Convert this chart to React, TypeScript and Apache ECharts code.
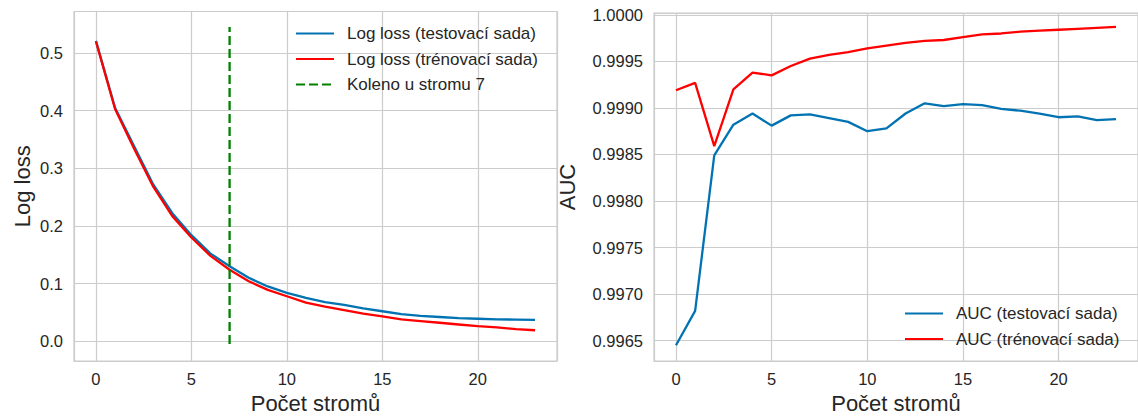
import React, { useEffect, useRef } from "react";
import * as echarts from "echarts";

// Number of trees on the x axis
const trees = [0, 1, 2, 3, 4, 5, 6, 7, 8, 9, 10, 11, 12, 13, 14, 15, 16, 17, 18, 19, 20, 21, 22, 23];

// Log loss per number of trees
const logLossTest = [0.521, 0.405, 0.338, 0.272, 0.222, 0.184, 0.152, 0.130, 0.110, 0.095, 0.084, 0.075, 0.068, 0.063, 0.057, 0.052, 0.047, 0.044, 0.042, 0.040, 0.039, 0.038, 0.0375, 0.037];
const logLossTrain = [0.520, 0.403, 0.334, 0.268, 0.217, 0.180, 0.148, 0.124, 0.104, 0.089, 0.078, 0.067, 0.060, 0.054, 0.048, 0.043, 0.038, 0.035, 0.032, 0.029, 0.026, 0.024, 0.021, 0.019];

// Knee marker
const kneeTree = 7;
const kneeSpan = [-0.005, 0.545];

// AUC per number of trees
const aucTest = [0.99645, 0.99682, 0.99849, 0.99882, 0.99894, 0.99881, 0.99892, 0.99893, 0.99889, 0.99885, 0.99875, 0.99878, 0.99894, 0.99905, 0.99902, 0.99904, 0.99903, 0.99899, 0.99897, 0.99894, 0.99890, 0.99891, 0.99887, 0.99888];
const aucTrain = [0.99919, 0.99927, 0.99859, 0.99920, 0.99938, 0.99935, 0.99945, 0.99953, 0.99957, 0.99960, 0.99964, 0.99967, 0.99970, 0.99972, 0.99973, 0.99976, 0.99979, 0.99980, 0.99982, 0.99983, 0.99984, 0.99985, 0.99986, 0.99987];

const names = {
  llTest: "Log loss (testovací sada)",
  llTrain: "Log loss (trénovací sada)",
  knee: "Koleno u stromu " + kneeTree,
  aucTest: "AUC (testovací sada)",
  aucTrain: "AUC (trénovací sada)",
};

const FONT = "'Liberation Sans', Arial, sans-serif";
const TEXT = "#262626";
const GRID = "#cccccc";
const BLUE = "#0173b2";
const RED = "#ff0000";
const GREEN = "#008000";
const TICK_SIZE = 16.5;
const TITLE_SIZE = 22;
const LEGEND_SIZE = 17;

const pairs = (ys: number[]) => trees.map((t, i) => [t, ys[i]]);

const onStep = (v: number, step: number) => Math.abs(v / step - Math.round(v / step)) < 1e-6;

function xAxis(gridIndex: number) {
  return {
    gridIndex,
    type: "value",
    min: -1.15,
    max: 24.15,
    splitNumber: 5,
    axisLine: { show: false },
    axisTick: { show: false },
    splitLine: { show: true, lineStyle: { color: GRID, width: 1.2 } },
    axisLabel: {
      margin: 9,
      fontSize: TICK_SIZE,
      color: TEXT,
      fontFamily: FONT,
      showMinLabel: false,
      showMaxLabel: false,
      formatter: (v: number) => (onStep(v, 5) ? String(Math.round(v)) : ""),
    },
    name: "Počet stromů",
    nameLocation: "middle",
    nameGap: 30,
    nameTextStyle: { fontSize: TITLE_SIZE, color: TEXT, fontFamily: FONT },
  };
}

function legend(data: string[], left: number, top: number) {
  return {
    data,
    left,
    top,
    orient: "vertical",
    itemWidth: 38,
    itemHeight: 14,
    itemGap: 8.5,
    padding: 0,
    // line-only keys: hide the marker drawn in the middle of the key line
    itemStyle: { opacity: 0, borderWidth: 0 },
    textStyle: { fontSize: LEGEND_SIZE, lineHeight: 17, color: TEXT, fontFamily: FONT, padding: [0, 0, 0, 8] },
  };
}

function line(name: string, xi: number, data: number[][], color: string, dashed = false) {
  return {
    type: "line",
    name,
    xAxisIndex: xi,
    yAxisIndex: xi,
    data,
    symbol: "none",
    showSymbol: false,
    lineStyle: { color, width: 2.3, type: dashed ? [9, 4] : "solid" },
    itemStyle: { color },
  };
}

export default function App() {
  const ref = useRef<HTMLDivElement>(null);

  useEffect(() => {
    if (!ref.current) return;
    const chart = echarts.init(ref.current, null, { renderer: "svg" });
    chart.setOption({
      animation: false,
      backgroundColor: "#ffffff",
      textStyle: { fontFamily: FONT },
      grid: [
        { left: 74, top: 11.5, width: 483, height: 352.5, show: true, borderColor: GRID, borderWidth: 1.2 },
        { left: 654, top: 13, width: 485, height: 350.5, show: true, borderColor: GRID, borderWidth: 1.2 },
      ],
      xAxis: [xAxis(0), xAxis(1)],
      yAxis: [
        {
          gridIndex: 0,
          type: "value",
          min: -0.0345,
          max: 0.572,
          splitNumber: 5,
          axisLine: { show: false },
          axisTick: { show: false },
          splitLine: { show: true, lineStyle: { color: GRID, width: 1.2 } },
          axisLabel: {
            margin: 11,
            fontSize: TICK_SIZE,
            color: TEXT,
            fontFamily: FONT,
            showMinLabel: false,
            showMaxLabel: false,
            formatter: (v: number) => (onStep(v, 0.1) ? v.toFixed(1) : ""),
          },
          name: "Log loss",
          nameLocation: "middle",
          nameGap: 41,
          nameTextStyle: { fontSize: TITLE_SIZE, color: TEXT, fontFamily: FONT },
        },
        {
          gridIndex: 1,
          type: "value",
          min: 0.99628,
          max: 1.00002,
          splitNumber: 8,
          axisLine: { show: false },
          axisTick: { show: false },
          splitLine: { show: true, lineStyle: { color: GRID, width: 1.2 } },
          axisLabel: {
            margin: 11,
            fontSize: TICK_SIZE,
            color: TEXT,
            fontFamily: FONT,
            showMinLabel: false,
            showMaxLabel: false,
            formatter: (v: number) => (onStep(v, 0.0005) ? v.toFixed(4) : ""),
          },
          name: "AUC",
          nameLocation: "middle",
          nameGap: 76,
          nameTextStyle: { fontSize: TITLE_SIZE, color: TEXT, fontFamily: FONT },
        },
      ],
      legend: [
        legend([names.llTest, names.llTrain, names.knee], 295, 25),
        legend([names.aucTest, names.aucTrain], 904, 305),
      ],
      series: [
        line(names.llTest, 0, pairs(logLossTest), BLUE),
        line(names.llTrain, 0, pairs(logLossTrain), RED),
        line(names.knee, 0, kneeSpan.map((y) => [kneeTree, y]), GREEN, true),
        line(names.aucTest, 1, pairs(aucTest), BLUE),
        line(names.aucTrain, 1, pairs(aucTrain), RED),
      ],
    });
    return () => chart.dispose();
  }, []);

  return (
    <div
      ref={ref}
      style={{ position: "fixed", left: 0, top: 0, width: 1138, height: 419, background: "#fff" }}
    />
  );
}
